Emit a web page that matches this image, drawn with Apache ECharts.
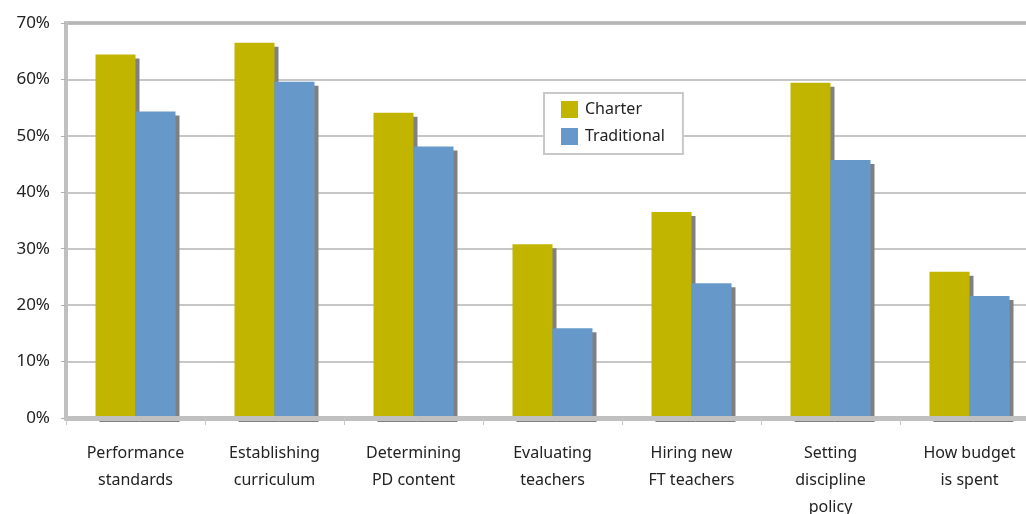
<!DOCTYPE html>
<html>
<head>
<meta charset="utf-8">
<script src="https://cdn.jsdelivr.net/npm/echarts@6/dist/echarts.min.js"></script>
<style>
html,body{margin:0;padding:0;background:#fff;}
#c{width:1026px;height:514px;}
</style>
</head>
<body>
<div id="c"></div>
<script>
const categories = [
  "Performance\nstandards",
  "Establishing\ncurriculum",
  "Determining\nPD content",
  "Evaluating\nteachers",
  "Hiring new\nFT teachers",
  "Setting\ndiscipline\npolicy",
  "How budget\nis spent"
];
const charter = [64.4, 66.5, 54.1, 30.8, 36.5, 59.4, 25.9];
const traditional = [54.3, 59.6, 48.1, 15.9, 23.9, 45.7, 21.6];
const yTicks = [0, 10, 20, 30, 40, 50, 60, 70];

const chart = echarts.init(document.getElementById('c'), null, {renderer: 'canvas'});
const font = '"Noto Sans", "Open Sans", sans-serif';
const shadow = {shadowColor: '#808080', shadowBlur: 0, shadowOffsetX: 4, shadowOffsetY: 4};
chart.setOption({
  animation: false,
  backgroundColor: '#ffffff',
  grid: {
    left: 66, top: 23, width: 973, bottom: 96,
    outerBoundsMode: 'none',
    containLabel: false,
    show: true, borderColor: '#c0c0c0', borderWidth: 4, backgroundColor: 'transparent'
  },
  legend: {
    orient: 'vertical',
    left: 544, top: 93,
    padding: [8, 18, 9, 17],
    itemGap: 10,
    itemWidth: 17, itemHeight: 17,
    borderColor: '#c8c8c8', borderWidth: 2,
    backgroundColor: '#ffffff',
    icon: 'rect',
    itemStyle: {shadowColor: 'transparent', shadowBlur: 0, shadowOffsetX: 0, shadowOffsetY: 0},
    textStyle: {fontFamily: font, fontSize: 16, color: '#222222', padding: [0, 0, 0, 2]},
    data: ['Charter', 'Traditional']
  },
  xAxis: {
    type: 'category',
    data: categories,
    z: 5,
    axisLine: {show: true, lineStyle: {color: '#c0c0c0', width: 5}},
    axisTick: {show: true, length: 7, lineStyle: {color: '#c8c8c8', width: 1}},
    axisLabel: {
      fontFamily: font, fontSize: 16, color: '#222222',
      lineHeight: 27, margin: 22, interval: 0
    },
    splitLine: {show: false}
  },
  yAxis: {
    type: 'value',
    min: yTicks[0], max: yTicks[yTicks.length - 1], interval: 10,
    axisLine: {show: true, lineStyle: {color: '#c0c0c0', width: 4}},
    axisTick: {show: true, length: 5, lineStyle: {color: '#b0b0b0', width: 1}},
    axisLabel: {
      fontFamily: font, fontSize: 17, color: '#222222', margin: 16,
      formatter: v => v + '%'
    },
    splitLine: {show: true, lineStyle: {color: '#b4b4b4', width: 1.5}}
  },
  series: [
    {
      name: 'Charter', type: 'bar', data: charter,
      barWidth: 40, barGap: '0%',
      itemStyle: Object.assign({color: '#c2b500'}, shadow)
    },
    {
      name: 'Traditional', type: 'bar', data: traditional,
      barWidth: 40, barGap: '0%',
      itemStyle: Object.assign({color: '#6699c9'}, shadow)
    }
  ]
});
</script>
</body>
</html>
